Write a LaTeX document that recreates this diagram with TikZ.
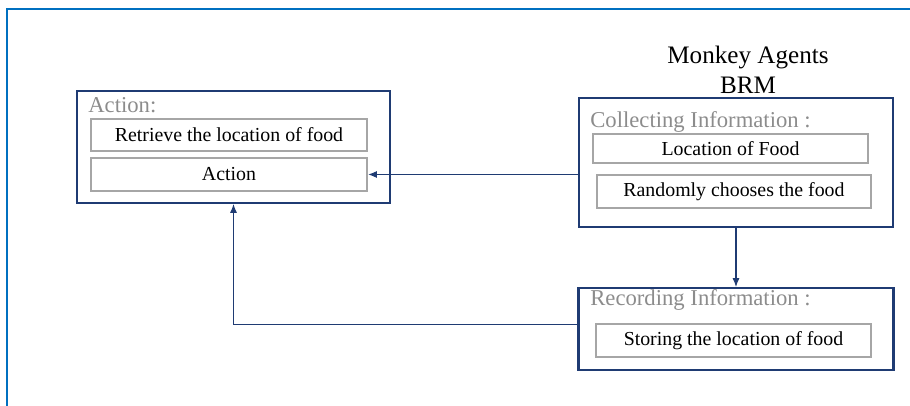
\documentclass[tikz,border=0pt]{standalone}
\usepackage{fontspec}
\setmainfont{Liberation Serif}
\usetikzlibrary{arrows.meta}
\definecolor{navy}{HTML}{1F3B73}
\definecolor{framebl}{HTML}{0070C0}
\definecolor{boxgray}{HTML}{A6A6A6}
\definecolor{labelgray}{HTML}{8C8C8C}
\begin{document}
\begin{tikzpicture}[
    outerbox/.style={draw=navy, line width=1.2pt, rectangle, inner sep=0pt},
    innerbox/.style={draw=boxgray, line width=1.3pt, rectangle, inner sep=0pt,
        font=\fontsize{11.3}{13}\selectfont},
    boxlabel/.style={anchor=west, inner sep=0pt, text=labelgray,
        font=\fontsize{12.9}{15}\selectfont},
    link/.style={draw=navy, line width=0.6pt, -{Latex[length=5pt,width=4pt]}}
  ]
    \useasboundingbox (0,0) rectangle (18.2,8.12);
    % cornice
    \coordinate (fr) at (0.14,7.94);
    \draw [framebl, line width=1.4pt] (fr |- 0,0) -- (fr) -- (18.2,7.94);
    % titolo
    \node [align=center, font=\fontsize{14.3}{17}\selectfont] (title) at (14.96,6.72) {Monkey Agents\\BRM};
    % blocco action
    \node [outerbox, minimum width=6.26cm, minimum height=2.24cm] (act) at (4.67,5.18) {};
    \node [boxlabel] (actlab) at (1.76,6.01) {Action:};
    \node [innerbox, minimum width=5.52cm, minimum height=0.64cm] (act1) at (4.58,5.42) {Retrieve the location of food};
    \node [innerbox, minimum width=5.52cm, minimum height=0.66cm] (act2) at (4.58,4.63) {Action};
    % blocco collecting
    \node [outerbox, minimum width=6.28cm, minimum height=2.58cm] (coll) at (14.72,4.87) {};
    \node [boxlabel] (colllab) at (11.80,5.69) {Collecting Information :};
    \node [innerbox, minimum width=5.50cm, minimum height=0.58cm] (loc) at (14.61,5.15) {Location of Food};
    \node [innerbox, minimum width=5.48cm, minimum height=0.66cm] (rand) at (14.68,4.29) {Randomly chooses the food};
    % blocco recording
    \node [outerbox, minimum width=6.30cm, minimum height=1.64cm] (rec) at (14.72,1.54) {};
    \node [boxlabel] (reclab) at (11.80,2.13) {Recording Information :};
    \node [innerbox, minimum width=5.50cm, minimum height=0.66cm] (stor) at (14.67,1.31) {Storing the location of food};
    % frecce
    \draw [link] (act2.east -| coll.west) -- (act2.east);
    \draw [link] (coll.south) -- (coll.south |- rec.north);
    \draw [link] ([yshift=2.3pt]rec.west) -| (act.south);
\end{tikzpicture}
\end{document}
